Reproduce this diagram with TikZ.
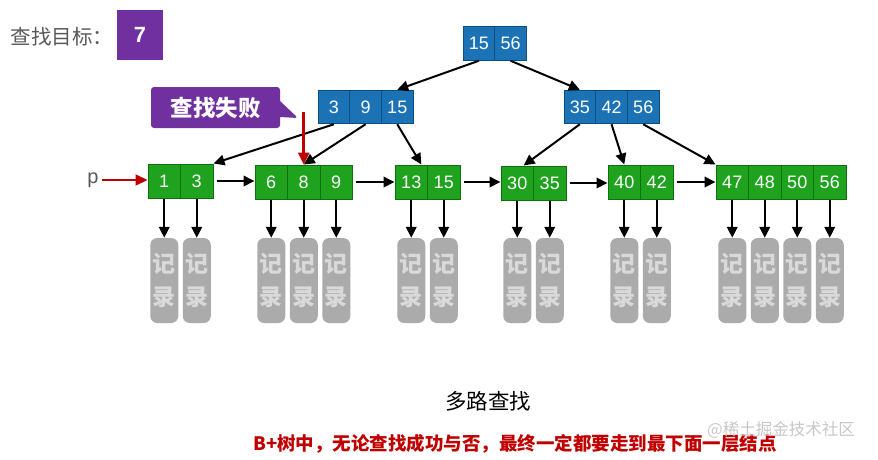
\documentclass[tikz,border=0pt]{standalone}
\usepackage{fontspec}
\setmainfont{Liberation Sans}
\newfontfamily\cjk{Noto Sans CJK SC}
\usetikzlibrary{arrows.meta,shapes.callouts}
\definecolor{keyblue}{HTML}{1B73B6}
\definecolor{keyblueline}{HTML}{0C4E82}
\definecolor{leafgreen}{HTML}{1FA31F}
\definecolor{leafline}{HTML}{0D700D}
\definecolor{notepurple}{HTML}{7030A0}
\definecolor{failred}{HTML}{C00000}
\definecolor{recgray}{HTML}{ABABAB}
\definecolor{rectext}{HTML}{D9D9D9}
\definecolor{labelgray}{HTML}{595959}
\tikzset{
  cell/.style={draw, line width=1pt, inner sep=0pt, text=white,
    font=\fontsize{18}{18}\selectfont},
  inner cell/.style={cell, fill=keyblue, draw=keyblueline,
    minimum width=31.7pt, minimum height=33.5pt},
  leaf cell/.style={cell, fill=leafgreen, draw=leafline,
    minimum width=32.5pt, minimum height=34pt},
  record/.style={fill=recgray, rounded corners=7pt, minimum width=28pt,
    minimum height=85pt, inner sep=0pt, align=center, text=rectext,
    font=\cjk\bfseries\fontsize{23}{33}\selectfont},
  link/.style={-{Triangle[length=11pt,width=10.5pt]}, line width=2pt},
  redlink/.style={-{Triangle[length=12pt,width=11pt]}, line width=2.6pt,
    draw=failred, fill=failred},
}
\begin{document}
\begin{tikzpicture}[x=1pt, y=-1pt]
  \useasboundingbox (0,0) rectangle (878,459);
  % target
  \node[anchor=west, text=labelgray, font=\cjk\fontsize{20.5}{20.5}\selectfont] (goal) at (7,37) {查找目标：};
  \node[fill=notepurple, minimum width=46pt, minimum height=50pt, text=white,
    font=\bfseries\fontsize{22}{22}\selectfont] (goalkey) at (140,35) {7};
  % internal nodes
  \foreach \k [count=\i] in {15,56}
    \node[inner cell] (r-\i) at (463+31.7*\i-15.85, 43.5) {\k};
  \foreach \k [count=\i] in {3,9,15}
    \node[inner cell] (a-\i) at (318+31.7*\i-15.85, 107) {\k};
  \foreach \k [count=\i] in {35,42,56}
    \node[inner cell] (b-\i) at (564+31.7*\i-15.85, 107) {\k};
  % leaves and records
  \foreach \name/\x/\y/\keys in {L1/148/181/{1,3}, L2/255/182/{6,8,9},
      L3/395/182/{13,15}, L4/501/183/{30,35}, L5/608/182/{40,42},
      L6/716/182/{47,48,50,56}} {
    \foreach \k [count=\i] in \keys {
      \node[leaf cell] (\name-\i) at (\x+32.5*\i-16.25, \y) {\k};
      \node[record] (\name-\i-rec) at (\x+32.5*\i-16.25, 280.5) {记\\录};
      \draw[link] (\name-\i) -- (\name-\i-rec);
    }
  }
  % tree links
  \draw[link] (r-1.south) -- (a-3.north);
  \draw[link] (r-2.south) -- (b-1.north);
  \draw[link] (a-1.south) -- (L1-2.north east);
  \draw[link] (a-2.south) -- (L2-2.north);
  \draw[link] (a-3.south) -- (L3-1.60);
  \draw[link] (b-1.south) -- (L4-1.70);
  \draw[link] (b-2.south) -- (L5-1.north);
  \draw[link] (b-3.south) -- (L6-1.north west);
  % leaf chain
  \draw[link, shorten <=3pt] (L1-2.east) -- (L2-1.west |- L1-2.east);
  \draw[link, shorten <=3pt] (L2-3.east) -- (L3-1.west |- L2-3.east);
  \draw[link, shorten <=3pt] (L3-2.east) -- (L4-1.west |- L3-2.east);
  \draw[link, shorten <=3pt] (L4-2.east) -- (L5-1.west |- L4-2.east);
  \draw[link, shorten <=3pt] (L5-2.east) -- (L6-1.west |- L5-2.east);
  \node[text=labelgray, font=\fontsize{20}{20}\selectfont] (p) at (93,180) {p};
  \draw[redlink, line width=2pt] (p.east) -- (L1-1.west |- p.east);
  % failure note
  \node[rectangle callout, fill=notepurple, rounded corners=3pt,
    callout absolute pointer={(298,118)}, callout pointer width=16pt,
    minimum width=129pt, minimum height=41pt,
    text=white, font=\cjk\bfseries\fontsize{22.5}{22.5}\selectfont] (failnote) at (215.5,107.5) {查找失败};
  \coordinate (failtop) at (303.75,112);
  \draw[redlink] (failtop) -- (L2-2.north);
  % captions
  \node[font=\cjk\fontsize{21.5}{21.5}\selectfont] (title) at (488,401) {多路查找};
  \node[text=failred, font=\cjk\bfseries\fontsize{18.5}{18.5}\selectfont] (remark) at (515,444)
    {B+树中，无论查找成功与否，最终一定都要走到最下面一层结点};
  \node[text=black!22, font=\cjk\fontsize{16.5}{16.5}\selectfont] (mark) at (781,430) {@稀土掘金技术社区};
\end{tikzpicture}
\end{document}
